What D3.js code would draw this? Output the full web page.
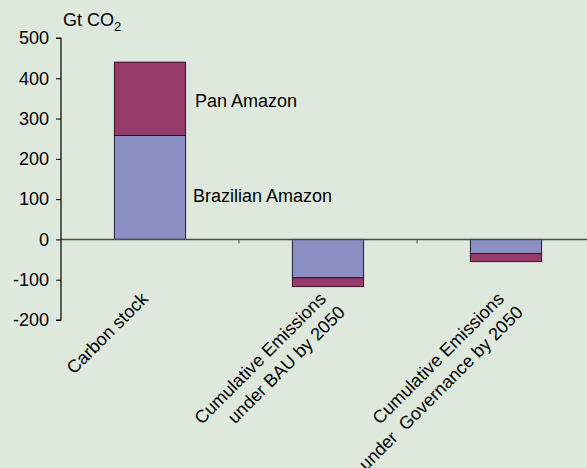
<!DOCTYPE html>
<html>
<head>
<meta charset="utf-8">
<script src="https://cdn.jsdelivr.net/npm/d3@7"></script>
<style>
  body { margin: 0; background: #dfe8dc; }
  svg { display: block; font-family: "Liberation Sans", Arial, sans-serif; }
</style>
</head>
<body>
<script>
const categories = [
  ["Carbon stock"],
  ["Cumulative Emissions", "under BAU by 2050"],
  ["Cumulative Emissions", "under\u00a0 Governance by 2050"]
];
const brazilian = [258, -95, -35];
const panExtra = [182, -22, -20];
const yTicks = [500, 400, 300, 200, 100, 0, -100, -200];

const w = 587, h = 468;
const padLeft = 61, padTop = 38, padBottom = 320;
const fs = "18px";

const svg = d3.select("body").append("svg")
  .attr("width", w)
  .attr("height", h);

const keys = categories.map((d, i) => "c" + i);

const x = d3.scaleBand()
  .domain(keys)
  .range([padLeft, padLeft + 178 * 3])
  .paddingInner(0.6)
  .paddingOuter(0.3);

const y = d3.scaleLinear()
  .domain([-200, 500])
  .range([padBottom, padTop]);

// bars: brazilian first, pan amazon stacked on top
keys.forEach((k, i) => {
  const b = brazilian[i], p = b + panExtra[i];
  svg.append("rect")
    .attr("x", x(k))
    .attr("width", x.bandwidth())
    .attr("y", y(Math.max(0, b)))
    .attr("height", Math.abs(y(b) - y(0)))
    .style("fill", "#8c8fc4")
    .style("stroke", "#1f1f3a")
    .style("stroke-width", 1);
  svg.append("rect")
    .attr("x", x(k))
    .attr("width", x.bandwidth())
    .attr("y", y(Math.max(b, p)))
    .attr("height", Math.abs(y(p) - y(b)))
    .style("fill", "#973a6c")
    .style("stroke", "#3a1028")
    .style("stroke-width", 1);
});

// x axis line at zero
svg.append("line")
  .attr("x1", padLeft).attr("x2", w)
  .attr("y1", y(0)).attr("y2", y(0))
  .style("stroke", "#4a4a4a")
  .style("stroke-width", 1.5);

const step = x.step();
keys.slice(1).forEach(k => {
  const bx = x(k) - step * x.paddingInner() / 2;
  svg.append("line")
    .attr("x1", bx).attr("x2", bx)
    .attr("y1", y(0)).attr("y2", y(0) + 4)
    .style("stroke", "#444")
    .style("stroke-width", 1);
});

// y axis
const yAxis = d3.axisLeft(y)
  .tickValues(yTicks)
  .tickFormat(d => String(d))
  .tickSize(5)
  .tickPadding(7);
const ga = svg.append("g")
  .attr("transform", "translate(" + padLeft + ",0)")
  .call(yAxis);
ga.select(".domain").attr("stroke", "#000").attr("stroke-width", 1.2)
  .attr("d", "M-5," + padTop + "H0V" + padBottom + "H-5");
ga.selectAll(".tick line").attr("stroke", "#000");
ga.selectAll(".tick text")
  .style("font-size", fs)
  .style("fill", "#000")
  .style("font-family", "Liberation Sans, Arial, sans-serif");

// unit label
const unit = svg.append("text")
  .attr("x", 63).attr("y", 26)
  .style("font-size", fs);
unit.append("tspan").text("Gt CO");
unit.append("tspan").text("2").attr("dy", 5).style("font-size", "13px");

// series labels
svg.append("text")
  .attr("x", 195).attr("y", 107)
  .style("font-size", fs)
  .text("Pan Amazon");
svg.append("text")
  .attr("x", 193).attr("y", 202)
  .style("font-size", fs)
  .text("Brazilian Amazon");

// rotated category labels
keys.forEach((k, i) => {
  const cx = x(k) + x.bandwidth() / 2;
  const t = svg.append("text")
    .attr("transform", "translate(" + (cx - 1) + ",300) rotate(-45)")
    .style("font-size", fs)
    .attr("text-anchor", "end");
  categories[i].forEach((line, j) => {
    t.append("tspan")
      .attr("x", j * 4)
      .attr("y", j * 23)
      .text(line);
  });
});
</script>
</body>
</html>
